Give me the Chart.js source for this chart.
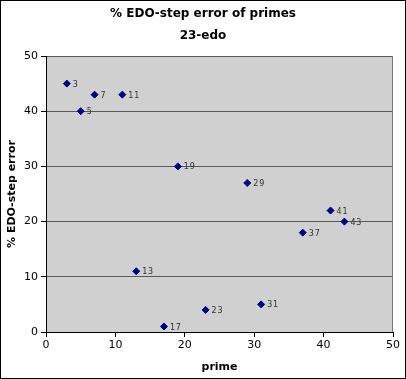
<!DOCTYPE html>
<html><head><meta charset="utf-8">
<script src="https://cdn.jsdelivr.net/npm/chart.js@4"></script>
<style>html,body{margin:0;padding:0;background:#fff}#wrap{width:406px;height:379px;position:relative}</style>
</head><body><div id="wrap"><canvas id="c"></canvas></div>
<script>
const primes = [3, 5, 7, 11, 13, 17, 19, 23, 29, 31, 37, 41, 43];
const errors = [45, 40, 43, 43, 11, 1, 30, 4, 27, 5, 18, 22, 20];
const titleText = '% EDO-step error of primes';
const subtitleText = '23-edo';
const xTitle = 'prime';
const yTitle = '% EDO-step error';

const FONT = 'DejaVu Sans';

const decor = {
  id: 'decor',
  beforeDraw(chart) {
    const {ctx, chartArea: a} = chart;
    ctx.save();
    ctx.fillStyle = '#d0d0d0';
    ctx.fillRect(a.left, a.top, a.right - a.left, a.bottom - a.top);
    ctx.restore();
  },
  afterDatasetsDraw(chart) {
    const {ctx, chartArea: a} = chart;
    ctx.save();
    ctx.strokeStyle = '#777';
    ctx.lineWidth = 1;
    ctx.beginPath();
    ctx.moveTo(Math.round(a.right) - 0.5, a.top);
    ctx.lineTo(Math.round(a.right) - 0.5, a.bottom);
    ctx.stroke();
    const meta = chart.getDatasetMeta(0);
    ctx.fillStyle = '#333';
    ctx.font = '8px ' + FONT;
    ctx.textBaseline = 'middle';
    ctx.textAlign = 'left';
    meta.data.forEach((pt, i) => {
      const label = String(primes[i]).split('').join('\u200A');
      ctx.fillText(label, pt.x + 6, pt.y + 1);
    });
    ctx.restore();
  },
  afterDraw(chart) {
    const {ctx, width, height} = chart;
    ctx.save();
    ctx.strokeStyle = '#000';
    ctx.lineWidth = 1;
    ctx.strokeRect(0.5, 0.5, width - 1, height - 1);
    ctx.restore();
  }
};

new Chart(document.getElementById('c'), {
  type: 'scatter',
  data: {
    datasets: [{
      data: primes.map((p, i) => ({x: p, y: errors[i]})),
      pointStyle: 'rectRot',
      pointRadius: 3.5,
      pointHoverRadius: 3.5,
      backgroundColor: '#000080',
      borderColor: '#000080',
      borderWidth: 1
    }]
  },
  options: {
    responsive: true,
    maintainAspectRatio: false,
    animation: false,
    events: [],
    layout: {padding: 0},
    plugins: {
      legend: {display: false},
      tooltip: {enabled: false},
      title: {display: true, text: titleText, color: '#000', font: {family: FONT, size: 12, weight: 'bold'}, padding: {top: 7, bottom: 7.4}},
      subtitle: {display: true, text: subtitleText, color: '#000', font: {family: FONT, size: 12, weight: 'bold'}, padding: {top: 0, bottom: 12.8}}
    },
    scales: {
      x: {
        type: 'linear', min: 0, max: 50,
        ticks: {stepSize: 10, color: '#000', font: {family: FONT, size: 11}, padding: 2, maxRotation: 0},
        grid: {drawOnChartArea: false, drawTicks: true, tickLength: 5, color: '#000', tickColor: '#000'},
        border: {display: true, color: '#000', width: 1},
        title: {display: true, text: xTitle, color: '#000', font: {family: FONT, size: 11, weight: 'bold'}, padding: {top: 5, bottom: 5}},
        afterFit(s) { s.height = 47; }
      },
      y: {
        type: 'linear', min: 0, max: 50,
        ticks: {stepSize: 10, color: '#000', font: {family: FONT, size: 11}, padding: 3},
        grid: {drawOnChartArea: true, drawTicks: true, tickLength: 5, color: '#5a5a5a', tickColor: '#000'},
        border: {display: true, color: '#000', width: 1},
        title: {display: true, text: yTitle, color: '#000', font: {family: FONT, size: 11, weight: 'bold'}, padding: {top: 6, bottom: 4}},
        afterFit(s) { s.width = 46; }
      },
      yRight: {
        type: 'linear', position: 'right', min: 0, max: 50,
        ticks: {display: false},
        grid: {display: false},
        border: {display: false},
        afterFit(s) { s.width = 13; }
      }
    }
  },
  plugins: [decor]
});
</script></body></html>
